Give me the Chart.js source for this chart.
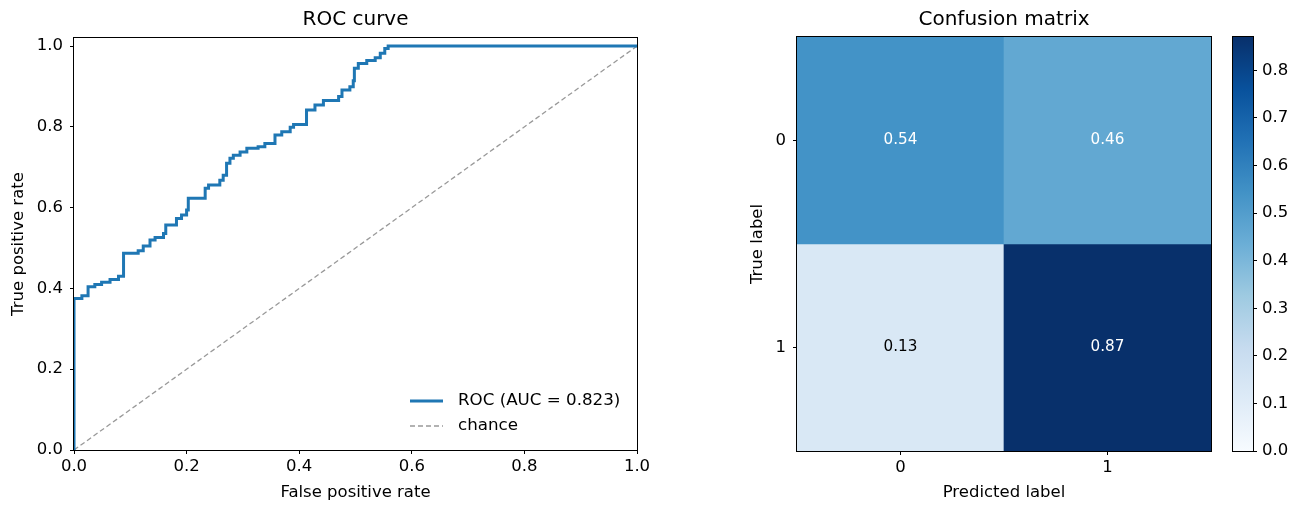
<!DOCTYPE html>
<html>
<head>
<meta charset="utf-8">
<script src="https://cdn.jsdelivr.net/npm/chart.js@4.4.1/dist/chart.umd.min.js"></script>
<style>
  html, body { margin: 0; padding: 0; background: #fff; }
  body { width: 1304px; height: 515px; position: relative; overflow: hidden; }
  .panel { position: absolute; top: 0; height: 515px; }
  #rocBox { left: 0; width: 660px; }
  #cmBox { left: 740px; width: 480px; }
  #cbarBox { left: 1220px; width: 84px; }
</style>
</head>
<body>
<div class="panel" id="rocBox"><canvas id="rocChart"></canvas></div>
<div class="panel" id="cmBox"><canvas id="cmChart"></canvas></div>
<div class="panel" id="cbarBox"><canvas id="cbarChart"></canvas></div>
<script>
// ROC curve (step vertices: x where the jump happens, new level)
const rocFpr = [0, 0, 0.014, 0.025, 0.037, 0.049, 0.064, 0.079, 0.088, 0.114, 0.123, 0.135, 0.144, 0.159, 0.163,
  0.182, 0.191, 0.200, 0.203, 0.233, 0.239, 0.259, 0.265, 0.271, 0.277, 0.283, 0.295, 0.307, 0.327, 0.339,
  0.357, 0.369, 0.384, 0.390, 0.413, 0.428, 0.443, 0.470, 0.476, 0.490, 0.496, 0.498, 0.505, 0.520, 0.535,
  0.544, 0.552, 0.558, 1.0];
const rocTpr = [0, 0.375, 0.382, 0.404, 0.410, 0.415, 0.422, 0.430, 0.487, 0.493, 0.505, 0.520, 0.526, 0.536, 0.557,
  0.573, 0.582, 0.594, 0.623, 0.648, 0.656, 0.668, 0.680, 0.710, 0.722, 0.730, 0.738, 0.747, 0.751, 0.759,
  0.780, 0.788, 0.799, 0.806, 0.842, 0.854, 0.865, 0.875, 0.891, 0.899, 0.914, 0.945, 0.957, 0.964, 0.971,
  0.982, 0.994, 1.0, 1.0];
const rocLabel = 'ROC (AUC = 0.823)';
const chanceFpr = [0, 1];
const chanceTpr = [0, 1];
const rateTicks = [0, 0.2, 0.4, 0.6, 0.8, 1.0];

// confusion matrix, normalised per true label
const classLabels = ['0', '1'];
const matrixRow0 = [0.54, 0.46];
const matrixRow1 = [0.13, 0.87];
const colorbarTicks = [0, 0.1, 0.2, 0.3, 0.4, 0.5, 0.6, 0.7, 0.8];

Chart.defaults.font.family = "'DejaVu Sans', sans-serif";
Chart.defaults.font.size = 16.5;
Chart.defaults.color = '#000';

// matplotlib "Blues"
const blues = ['#f7fbff', '#deebf7', '#c6dbef', '#9ecae1', '#6baed6', '#4292c6', '#2171b5', '#08519c', '#08306b'];
const matrixRows = [matrixRow0, matrixRow1];
const vmax = Math.max(...matrixRow0, ...matrixRow1);

function hexToRgb(h) {
    return [1, 3, 5].map(i => parseInt(h.slice(i, i + 2), 16));
}
function bluesColor(v) {
    const t = Math.min(1, Math.max(0, v / vmax)) * (blues.length - 1);
    const i = Math.min(blues.length - 2, Math.floor(t));
    const a = hexToRgb(blues[i]), b = hexToRgb(blues[i + 1]);
    const f = t - i;
    const c = a.map((x, k) => Math.round(x + (b[k] - x) * f));
    return `rgb(${c[0]},${c[1]},${c[2]})`;
}

// black frame round the plot area (all four spines)
const frame = {
    id: 'frame',
    afterDatasetsDraw(chart) {
        const { ctx, chartArea: a } = chart;
        ctx.save();
        ctx.strokeStyle = '#000';
        ctx.lineWidth = 1;
        ctx.strokeRect(Math.round(a.left) - 0.5, Math.round(a.top) - 0.5,
            Math.round(a.right - a.left) + 1, Math.round(a.bottom - a.top) + 1);
        ctx.restore();
    }
};

// legend drawn inside the lower right corner, like matplotlib
const innerLegend = {
    id: 'innerLegend',
    afterDraw(chart) {
        const { ctx, chartArea } = chart;
        ctx.save();
        ctx.font = "16.7px 'DejaVu Sans'";
        ctx.textBaseline = 'middle';
        chart.data.datasets.forEach((ds, i) => {
            const y = chartArea.bottom - 49 + i * 25;
            const x0 = chartArea.right - 227;
            ctx.strokeStyle = ds.borderColor;
            ctx.lineWidth = ds.borderWidth;
            ctx.setLineDash(ds.borderDash || []);
            ctx.beginPath();
            ctx.moveTo(x0, y);
            ctx.lineTo(x0 + 33, y);
            ctx.stroke();
            ctx.fillStyle = '#000';
            ctx.fillText(ds.label, x0 + 48, y);
        });
        ctx.restore();
    }
};

// STEP 1: ROC curve
new Chart(document.getElementById('rocChart'), {
    type: 'line',
    data: {
        datasets: [{
            label: rocLabel,
            data: rocFpr.map((x, i) => ({ x: x, y: rocTpr[i] })),
            borderColor: '#1f77b4',
            borderWidth: 3,
            stepped: 'before',
            pointRadius: 0,
            fill: false
        }, {
            label: 'chance',
            data: chanceFpr.map((x, i) => ({ x: x, y: chanceTpr[i] })),
            borderColor: '#999999',
            borderWidth: 1.3,
            borderDash: [5, 3],
            pointRadius: 0,
            fill: false
        }]
    },
    options: {
        animation: false,
        responsive: true,
        maintainAspectRatio: false,
        layout: { padding: { left: 0, right: 23, top: 0, bottom: 0 } },
        plugins: {
            legend: { display: false },
            tooltip: { enabled: false },
            title: {
                display: true, text: 'ROC curve', fullSize: false, color: '#000',
                font: { size: 20, weight: 'normal' }, padding: { top: 8, bottom: 6 }
            }
        },
        scales: {
            x: {
                type: 'linear', min: 0, max: 1,
                afterBuildTicks: s => { s.ticks = rateTicks.map(v => ({ value: v })); },
                afterFit: s => { s.height = 65; },
                ticks: { callback: v => v.toFixed(1), padding: 3, maxRotation: 0, autoSkip: false },
                grid: { drawOnChartArea: false, tickLength: 4, color: '#000' },
                border: { display: false },
                title: { display: true, text: 'False positive rate', padding: { top: 0, bottom: 12 } }
            },
            y: {
                type: 'linear', min: 0, max: 1.02,
                afterBuildTicks: s => { s.ticks = rateTicks.map(v => ({ value: v })); },
                afterFit: s => { s.width = 74; },
                ticks: { callback: v => v.toFixed(1), padding: 7, autoSkip: false },
                grid: { drawOnChartArea: false, tickLength: 4, color: '#000' },
                border: { display: false },
                title: { display: true, text: 'True positive rate', padding: { top: 9, bottom: 0 } }
            }
        }
    },
    plugins: [frame, innerLegend]
});

// STEP 2: confusion matrix as floating bars, one dataset per true label
const cellText = {
    id: 'cellText',
    afterDatasetsDraw(chart) {
        const { ctx } = chart;
        ctx.save();
        ctx.font = "15.2px 'DejaVu Sans'";
        ctx.textAlign = 'center';
        ctx.textBaseline = 'middle';
        chart.data.datasets.forEach((ds, r) => {
            chart.getDatasetMeta(r).data.forEach((bar, c) => {
                const v = matrixRows[r][c];
                ctx.fillStyle = v > vmax / 2 ? '#fff' : '#000';
                ctx.fillText(v.toFixed(2), bar.x, (bar.y + bar.base) / 2);
            });
        });
        ctx.restore();
    }
};

new Chart(document.getElementById('cmChart'), {
    type: 'bar',
    data: {
        labels: classLabels,
        datasets: matrixRows.map((row, r) => ({
            label: classLabels[r],
            data: row.map(() => [r - 0.5, r + 0.5]),
            backgroundColor: row.map(v => bluesColor(v)),
            borderWidth: 0,
            grouped: false,
            barPercentage: 1,
            categoryPercentage: 1
        }))
    },
    options: {
        animation: false,
        responsive: true,
        maintainAspectRatio: false,
        layout: { padding: { left: 0, right: 9, top: 0, bottom: 0 } },
        plugins: {
            legend: { display: false },
            tooltip: { enabled: false },
            title: {
                display: true, text: 'Confusion matrix', fullSize: false, color: '#000',
                font: { size: 20, weight: 'normal' }, padding: { top: 8, bottom: 5 }
            }
        },
        scales: {
            x: {
                type: 'category',
                afterFit: s => { s.height = 64; },
                ticks: { padding: 3 },
                grid: { offset: false, drawOnChartArea: false, tickLength: 4, color: '#000' },
                border: { display: false },
                title: { display: true, text: 'Predicted label', padding: { top: 0, bottom: 12 } }
            },
            y: {
                type: 'linear', min: -0.5, max: 1.5, reverse: true,
                afterBuildTicks: s => { s.ticks = classLabels.map((l, i) => ({ value: i })); },
                afterFit: s => { s.width = 57; },
                ticks: { callback: v => classLabels[v], padding: 7 },
                grid: { drawOnChartArea: false, tickLength: 4, color: '#000' },
                border: { display: false },
                title: { display: true, text: 'True label', padding: { top: 8, bottom: 0 } }
            }
        }
    },
    plugins: [frame, cellText]
});

// STEP 3: colour bar
new Chart(document.getElementById('cbarChart'), {
    type: 'bar',
    data: {
        labels: [''],
        datasets: [{
            data: [vmax],
            borderWidth: 0,
            barPercentage: 1,
            categoryPercentage: 1,
            backgroundColor: ctx => {
                const chart = ctx.chart;
                if (!chart.chartArea) return blues[4];
                const y = chart.scales.y;
                const g = chart.ctx.createLinearGradient(0, y.getPixelForValue(0), 0, y.getPixelForValue(vmax));
                blues.forEach((c, i) => g.addColorStop(i / (blues.length - 1), c));
                return g;
            }
        }]
    },
    options: {
        animation: false,
        responsive: true,
        maintainAspectRatio: false,
        layout: { padding: { left: 13, right: 0, top: 37, bottom: 64 } },
        plugins: { legend: { display: false }, tooltip: { enabled: false } },
        scales: {
            x: { display: false },
            y: {
                position: 'right', min: 0, max: vmax,
                afterBuildTicks: s => { s.ticks = colorbarTicks.map(v => ({ value: v })); },
                afterFit: s => { s.width = 51; },
                ticks: { callback: v => v.toFixed(1), padding: 5, autoSkip: false },
                grid: { drawOnChartArea: false, tickLength: 4, color: '#000' },
                border: { display: false }
            }
        }
    },
    plugins: [frame]
});
</script>
</body>
</html>
